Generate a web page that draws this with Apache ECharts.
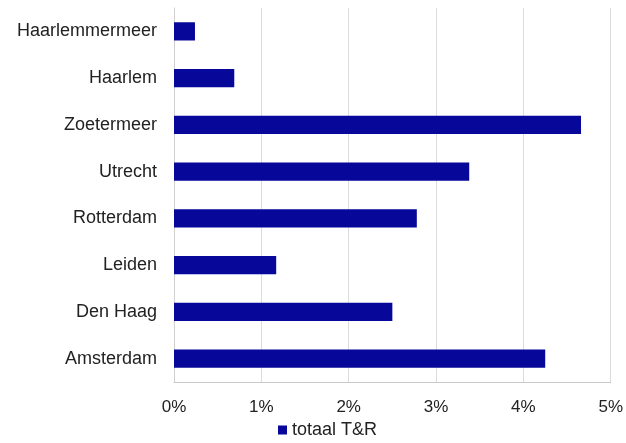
<!DOCTYPE html>
<html>
<head>
<meta charset="utf-8">
<script src="https://cdn.jsdelivr.net/npm/echarts@6/dist/echarts.min.js"></script>
<style>html,body{margin:0;padding:0;background:#fff}#c{width:626px;height:443px}</style>
</head>
<body>
<div id="c"></div>
<script>
var categories = ["Amsterdam", "Den Haag", "Leiden", "Rotterdam", "Utrecht", "Zoetermeer", "Haarlem", "Haarlemmermeer"];
var totaalTR = [4.25, 2.50, 1.17, 2.78, 3.38, 4.66, 0.69, 0.24];
var xTicks = [0, 1, 2, 3, 4, 5];
var seriesName = "totaal T&R";

var chart = echarts.init(document.getElementById('c'), null, {renderer: 'canvas'});
var font = 'Liberation Sans, Arial, sans-serif';
chart.setOption({
  animation: false,
  backgroundColor: '#ffffff',
  grid: {left: 174, right: 11, top: 8, bottom: 61, containLabel: false},
  legend: {
    data: [seriesName],
    bottom: -1,
    left: 273,
    icon: 'rect',
    itemWidth: 9,
    itemHeight: 9,
    itemGap: 4,
    textStyle: {fontFamily: font, fontSize: 18, color: '#222'}
  },
  xAxis: {
    type: 'value',
    min: xTicks[0],
    max: xTicks[xTicks.length - 1],
    interval: 1,
    axisLine: {show: true, lineStyle: {color: '#c8c8c8'}},
    axisTick: {show: false},
    splitLine: {show: true, lineStyle: {color: '#dcdcdc', width: 1}},
    axisLabel: {formatter: '{value}%', fontFamily: font, fontSize: 17, color: '#222', margin: 17}
  },
  yAxis: {
    type: 'category',
    data: categories,
    axisLine: {show: true, lineStyle: {color: '#d0d0d0'}},
    axisTick: {show: false},
    axisLabel: {fontFamily: font, fontSize: 18, color: '#222', margin: 17}
  },
  series: [{
    name: seriesName,
    type: 'bar',
    data: totaalTR,
    barWidth: '39%',
    itemStyle: {color: '#07079a'}
  }]
});
</script>
</body>
</html>
